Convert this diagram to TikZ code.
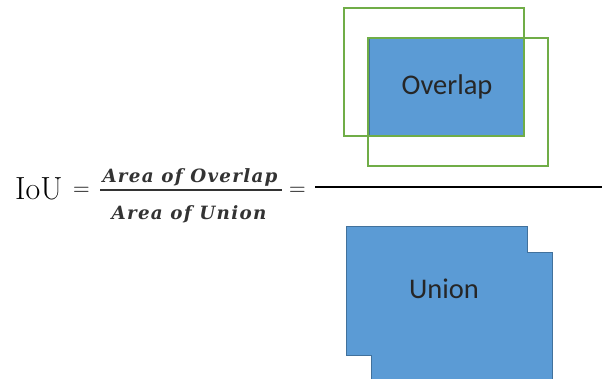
\documentclass[tikz,border=0pt]{standalone}
\usepackage{fontspec}
\setsansfont{Carlito}
\newfontfamily\areafont[LetterSpace=7]{DejaVu Serif}
\usetikzlibrary{positioning}
\definecolor{boxfill}{HTML}{5B9BD5}
\definecolor{boxline}{HTML}{41719C}
\definecolor{boxgreen}{HTML}{70AD47}
\tikzset{
  bbox/.style={draw=boxgreen,line width=1.4pt},
  blueregion/.style={fill=boxfill,draw=boxline,line width=1pt},
  regionlabel/.style={font=\sffamily\fontsize{28.5}{32}\selectfont,text=black!85},
  areatext/.style={inner sep=0pt,anchor=base,
    font=\areafont\bfseries\itshape\fontsize{18.3}{20}\selectfont,text=black!80},
  eqsign/.style={inner sep=0pt,font=\fontsize{23}{26}\selectfont}
}

\begin{document}
\begin{tikzpicture}[x=1pt,y=-1pt]
  \useasboundingbox (0,0) rectangle (602,378);
  \clip (0,0) rectangle (602,378);

  % OVERLAP (top boxes)
  \coordinate (A1) at (344,8);   % first box, top left
  \coordinate (A2) at (524,136); % first box, bottom right
  \coordinate (B1) at (368,38);  % second box, top left
  \coordinate (B2) at (548,166); % second box, bottom right
  \fill[boxfill] (B1) rectangle (A2); % overlap
  \draw[boxline,line width=1pt] (369,38) rectangle (A2);
  \draw[bbox] (A1) rectangle (A2);
  \draw[bbox] (B1) rectangle (B2);
  \node[regionlabel] (overlap) at (447,87) {Overlap};

  % FRACTION LINE
  \coordinate (barL) at (315,187);
  \coordinate (barR) at (602,187);
  \draw[line width=1.3pt] (barL) -- (barR);

  % UNION (bottom shape)
  \filldraw[blueregion] (346,226) -- (527,226) -- (527,252) -- (552,252)
    -- (552,390) -- (371,390) -- (371,355) -- (346,355) -- cycle;
  \node[regionlabel] (union) at (444,289) {Union};

  % FORMULA
  \node[inner sep=0pt,anchor=base west,font=\fontsize{32}{34}\selectfont]
    (iou) at (15,199) {IoU};
  \node[eqsign] (eqA) at (81.5,191) {=};
  \node[areatext] (num) at (190,182) {Area of Overlap};
  \node[areatext] (den) at (189,219) {Area of Union};
  \coordinate (fracL) at (100,190);
  \coordinate (fracR) at (282,190);
  \draw[line width=1.6pt,black!80] (fracL) -- (fracR);
  \node[eqsign] (eqB) at (297.5,191) {=};
\end{tikzpicture}
\end{document}
